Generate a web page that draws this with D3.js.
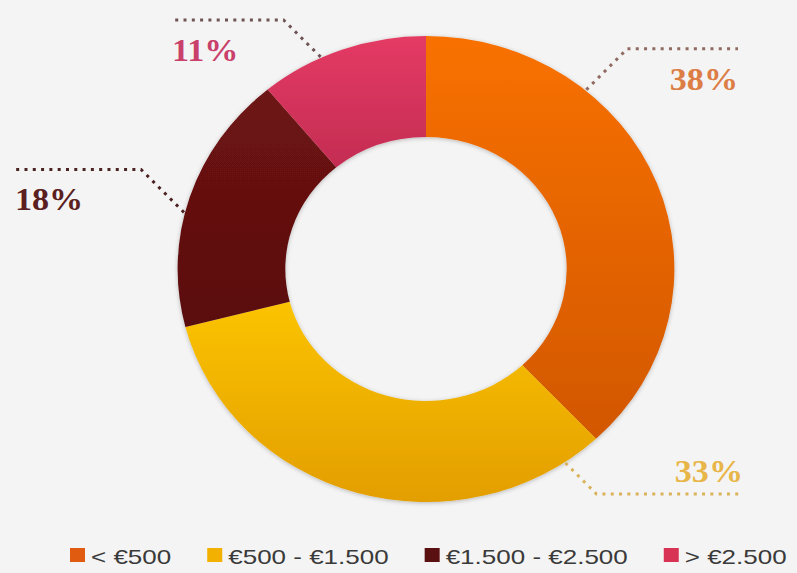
<!DOCTYPE html>
<html>
<head>
<meta charset="utf-8">
<script src="https://cdn.jsdelivr.net/npm/d3@7/dist/d3.min.js"></script>
<style>
  body { margin: 0; background: #f4f4f4; }
  svg { display: block; }
</style>
</head>
<body>
<div id="chart"></div>
<script>
// Width and height
var w = 797;
var h = 573;

// data
var categories = ["< €500", "€500 - €1.500", "€1.500 - €2.500", "> €2.500"];
var shares = [38, 33, 18, 11];
var shareLabels = ["38%", "33%", "18%", "11%"];

// colours (top / bottom of each slice gradient)
var colorsTop = ["#f87100", "#fbc300", "#6e1313", "#e43b64"];
var colorsBottom = ["#d25700", "#e39e00", "#5a0e0e", "#c42c52"];
var legendColors = ["#e05a10", "#f2b000", "#5a1010", "#d83355"];
var labelColors = ["#dc7d45", "#e8b548", "#5b1f1f", "#c9416b"];
var leaderColors = ["#8f6a60", "#d9b25a", "#4a2222", "#6e5254"];

// leader layout: angle where leader leaves the ring, diagonal length, end of the dotted line
var leaderAngle = [40, 146, 284, 335];
var leaderDiag = [41, 31, 43, 37];
var leaderEndX = [738, 743, 15, 172];

var cx = 426, cy = 269;
var outerR = 233, innerR = 132;
var stretch = 1.066;   // the picture is a bit wider than tall

var svg = d3.select("#chart")
    .append("svg")
    .attr("width", w)
    .attr("height", h);

svg.append("rect")
    .attr("width", w)
    .attr("height", h)
    .attr("fill", "#f4f4f4");

var defs = svg.append("defs");

var shadow = defs.append("filter")
    .attr("id", "shadow")
    .attr("x", "-10%").attr("y", "-10%")
    .attr("width", "120%").attr("height", "120%");
shadow.append("feDropShadow")
    .attr("dx", 0).attr("dy", 1)
    .attr("stdDeviation", 2)
    .attr("flood-color", "#000")
    .attr("flood-opacity", 0.25);

categories.forEach(function(c, i) {
    var g = defs.append("linearGradient")
        .attr("id", "grad" + i)
        .attr("x1", 0).attr("y1", 0)
        .attr("x2", 0).attr("y2", 1);
    g.append("stop").attr("offset", "0%").attr("stop-color", colorsTop[i]);
    g.append("stop").attr("offset", "100%").attr("stop-color", colorsBottom[i]);
});

var pie = d3.pie().sort(null).value(function(d) { return d; });
var arc = d3.arc().innerRadius(innerR).outerRadius(outerR);

var arcs = pie(shares);

var donut = svg.append("g")
    .attr("transform", "translate(" + cx + "," + cy + ") scale(" + stretch + ",1)")
    .attr("filter", "url(#shadow)");

donut.selectAll("path")
    .data(arcs)
    .enter().append("path")
    .attr("d", arc)
    .attr("fill", function(d, i) { return "url(#grad" + i + ")"; });

// leader lines + labels
var rad = Math.PI / 180;
arcs.forEach(function(d, i) {
    var a = leaderAngle[i] * rad;
    var r = outerR + 1;
    var x0 = cx + stretch * r * Math.sin(a);
    var y0 = cy - r * Math.cos(a);
    var sx = Math.sin(a) > 0 ? 1 : -1;
    var sy = Math.cos(a) > 0 ? -1 : 1;
    var x1 = x0 + sx * leaderDiag[i];
    var y1 = y0 + sy * leaderDiag[i];
    var x2 = leaderEndX[i];

    svg.append("path")
        .attr("d", d3.line()([[x0, y0], [x1, y1], [x2, y1]]))
        .attr("fill", "none")
        .attr("stroke", leaderColors[i])
        .attr("stroke-width", 3)
        .attr("stroke-dasharray", "3,5.3");

    var above = sy > 0;   // bottom labels sit above their line
    svg.append("text")
        .attr("transform", "translate(" + x2 + "," + (above ? y1 - 12 : y1 + 41) + ") scale(1.1,1)")
        .attr("text-anchor", sx > 0 ? "end" : "start")
        .style("font-family", "Georgia, 'Liberation Serif', 'DejaVu Serif', serif")
        .style("font-weight", "bold")
        .style("font-size", "31px")
        .style("fill", labelColors[i])
        .text(shareLabels[i]);
});

// legend
var legend = svg.append("g").attr("class", "legend");
var lx = 70, ly = 548, sq = 14, textScale = 1.3;
categories.forEach(function(c, i) {
    var item = legend.append("g").attr("transform", "translate(" + lx + "," + ly + ")");
    item.append("rect")
        .attr("width", sq + 1)
        .attr("height", sq)
        .attr("fill", legendColors[i]);
    var t = item.append("text")
        .attr("transform", "translate(" + (sq + 7) + "," + (sq + 2) + ") scale(" + textScale + ",1)")
        .style("font-family", "Arial, 'Liberation Sans', sans-serif")
        .style("font-size", "20px")
        .style("fill", "#3a3a3a")
        .text(c);
    var tw = t.node().getComputedTextLength() * textScale;
    lx += sq + 7 + tw + 36;
});
</script>
</body>
</html>
